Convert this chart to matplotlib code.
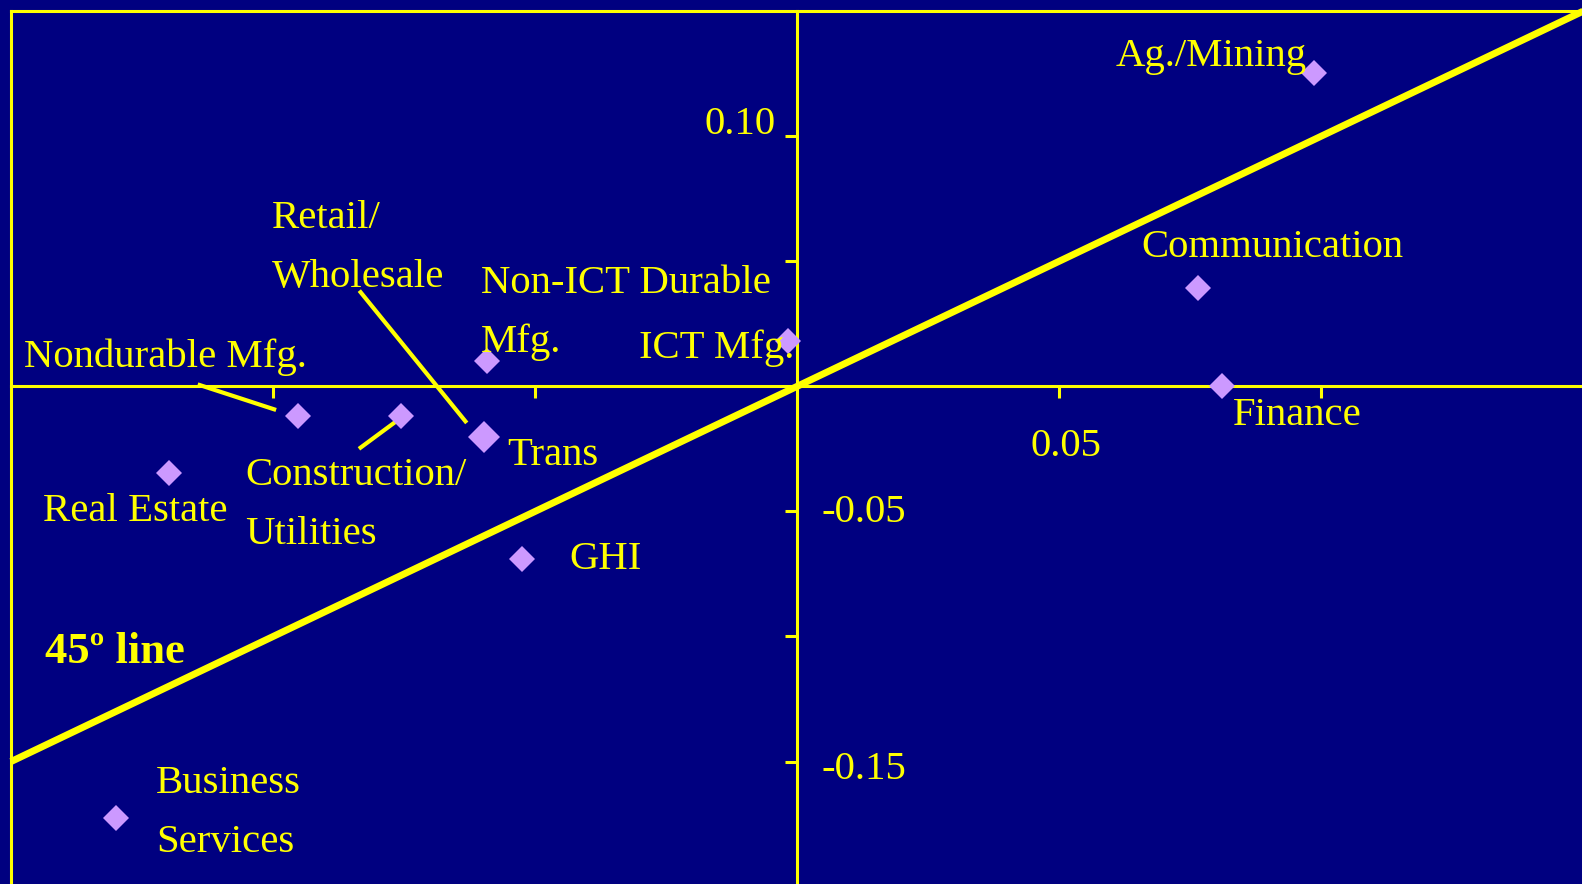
import matplotlib.pyplot as plt

# sector coordinates (x, y)
sectors = ["Ag./Mining", "Communication", "Finance", "ICT Mfg.",
           "Non-ICT Durable Mfg.", "Retail/Wholesale", "Trans",
           "Construction/Utilities", "Nondurable Mfg.", "Real Estate",
           "GHI", "Business Services"]
xs = [0.0986, 0.0764, 0.0810, -0.0018, -0.0592, -0.0598, -0.0598,
      -0.0756, -0.0952, -0.1198, -0.0525, -0.1299]
ys = [0.1254, 0.0393, 0.0000, 0.0183, 0.0100, -0.0202, -0.0202,
      -0.0120, -0.0120, -0.0346, -0.0689, -0.1724]

xticks = [-0.10, -0.05, 0.05, 0.10]
yticks = [-0.15, -0.10, -0.05, 0.05, 0.10]

NAVY = "#000080"
YELLOW = "#FFFF00"
DOT = "#CC99FF"
FONT = "Liberation Serif"
FS = 29.3

fig = plt.figure(figsize=(15.82, 8.84), dpi=100, facecolor=NAVY)
ax = fig.add_axes([0.00695, -0.00305, 0.99399, 0.99061])
ax.set_facecolor(NAVY)
ax.set_xlim(-0.15, 0.15)
ax.set_ylim(-0.2, 0.15)

# axes cross at the origin
for side in ("left", "bottom"):
    ax.spines[side].set_position(("data", 0))
    ax.spines[side].set_color(YELLOW)
    ax.spines[side].set_linewidth(2.2)
    ax.spines[side].set_zorder(1)
ax.spines["top"].set_color(YELLOW)
ax.spines["top"].set_linewidth(2.2)
ax.spines["right"].set_visible(False)
ax.axvline(-0.15, color=YELLOW, lw=2.2, clip_on=False)

ax.set_xticks(xticks)
ax.set_yticks(yticks)
ax.set_xticklabels([])
ax.set_yticklabels([])
ax.tick_params(axis="both", direction="out", length=8.6, width=2.2, color=YELLOW)

# tick values
tk = dict(color=YELLOW, fontsize=FS, family=FONT)
ax.text(-0.0042, 0.1047, "0.10", ha="right", va="center", **tk)
ax.text(0.0047, -0.0503, "-0.05", ha="left", va="center", **tk)
ax.text(0.0046, -0.1533, "-0.15", ha="left", va="center", **tk)
ax.text(0.0512, -0.0240, "0.05", ha="center", va="center", **tk)

# 45 degree reference line
ax.plot([-0.15, 0.15], [-0.15, 0.15], color=YELLOW, lw=5, clip_on=False,
        solid_capstyle="butt", zorder=2)

# markers; the overlapping Retail/Trans pair is drawn a size larger
sizes = [12.8] * len(sectors)
sizes[sectors.index("Trans")] = 16.5
for x, y, s in zip(xs, ys, sizes):
    ax.plot(x, y, "D", color=DOT, ms=s, mew=0, zorder=4, clip_on=False)

# sector labels: (lines, x, first baseline)
labels = [
    (["Ag./Mining"], 0.0608, 0.1280),
    (["Communication"], 0.0657, 0.0517),
    (["Finance"], 0.0831, -0.0156),
    (["ICT Mfg."], -0.0301, 0.0113),
    (["Non-ICT Durable", "Mfg."], -0.0604, 0.0374),
    (["Retail/", "Wholesale"], -0.1003, 0.0633),
    (["Nondurable Mfg."], -0.1476, 0.0077),
    (["Construction/", "Utilities"], -0.1053, -0.0395),
    (["Trans"], -0.0553, -0.0315),
    (["Real Estate"], -0.1438, -0.0538),
    (["GHI"], -0.0434, -0.0731),
    (["Business", "Services"], -0.1223, -0.1627),
]
step = 0.0236
for lines, lx, ly in labels:
    for i, s in enumerate(lines):
        ax.text(lx, ly - i * step, s, ha="left", va="baseline", zorder=5, **tk)

ax.text(-0.1436, -0.1105, "45º line", ha="left", va="baseline",
        fontweight="bold", color=YELLOW, fontsize=32, family=FONT, zorder=5)

# leader lines
leaders = [
    ([-0.0833, -0.0633], [0.0376, -0.0140]),
    ([-0.1140, -0.0998], [0.0005, -0.0092]),
    ([-0.0833, -0.0760], [-0.0245, -0.0132]),
]
for lxs, lys in leaders:
    ax.plot(lxs, lys, color=YELLOW, lw=3, zorder=3)

fig.savefig("out.png", dpi=100, facecolor=NAVY)
